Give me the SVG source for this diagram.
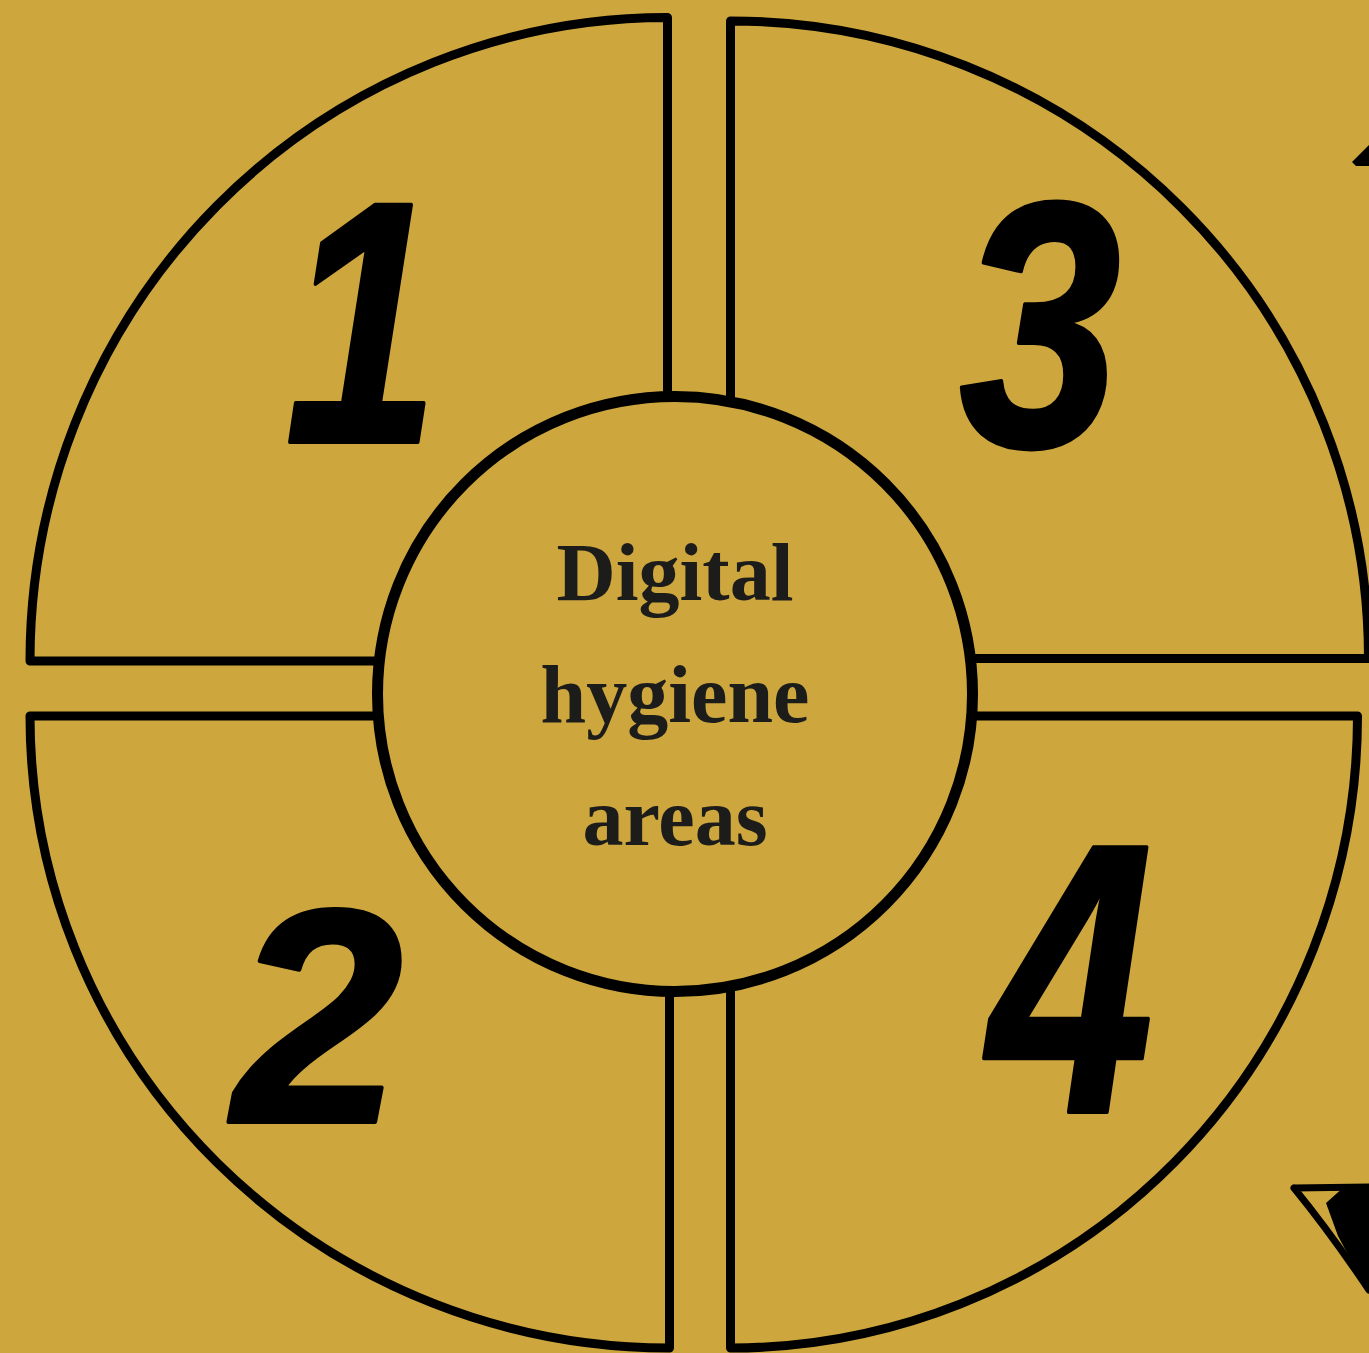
<svg xmlns="http://www.w3.org/2000/svg" width="1369" height="1353" viewBox="0 0 1369 1353">
  <style>
    .quad { fill: #CDA63E; stroke: #000; stroke-width: 9; stroke-linejoin: round; }
    .hub { fill: #CDA63E; stroke: #000; stroke-width: 11; }
    .label { font-family: "Liberation Serif", "Times New Roman", serif; font-weight: bold; font-size: 82px; fill: #1c1c1a; text-anchor: middle; }
    .num { font-family: "Liberation Sans", Arial, sans-serif; font-weight: bold; font-style: italic; fill: #000; stroke: #000; stroke-width: 4; stroke-linejoin: round; text-anchor: middle; }
    .deco { fill: #000; }
  </style>
  <rect x="0" y="0" width="1369" height="1353" fill="#CDA63E"/>

  <g id="quadrant-1">
    <path class="quad" d="M667.5,661 L30,661 A637.5,643.5 0 0 1 667.5,17.5 Z"/>
    <text class="num" x="0" y="0" font-size="345" transform="translate(362,442) scale(0.8,1)">1</text>
  </g>
  <g id="quadrant-3">
    <path class="quad" d="M730.5,658.5 L730.5,21 A638,637.5 0 0 1 1368.5,658.5 Z"/>
    <text class="num" x="0" y="0" font-size="350" transform="translate(1040,446) scale(0.83,1)">3</text>
  </g>
  <g id="quadrant-2">
    <path class="quad" d="M669.5,716 L669.5,1348 A639.5,632 0 0 1 30,716 Z"/>
    <text class="num" x="318" y="1122" font-size="305">2</text>
  </g>
  <g id="quadrant-4">
    <path class="quad" d="M730.5,716 L1357.5,716 A627,632 0 0 1 730.5,1348 Z"/>
    <text class="num" x="0" y="0" font-size="385" transform="translate(1071,1112) scale(0.77,1)">4</text>
  </g>

  <g id="center">
    <circle class="hub" cx="675" cy="694" r="297.5"/>
    <text class="label" x="675" y="600">Digital</text>
    <text class="label" x="675" y="722">hygiene</text>
    <text class="label" x="675" y="845">areas</text>
  </g>

  <g id="connectors"></g>

  <g id="edge-decorations">
    <path class="deco" d="M1352,162 L1369,145 L1369,166 L1356,166 Z"/>
    <path d="M1294,1188 L1369,1187 M1294,1188 Q1330,1232 1369,1290" fill="none" stroke="#000" stroke-width="7" stroke-linecap="round"/>
    <path class="deco" d="M1326,1203 L1345,1186 L1369,1184 L1369,1290 L1352,1262 L1338,1236 Z"/>
  </g>
</svg>
